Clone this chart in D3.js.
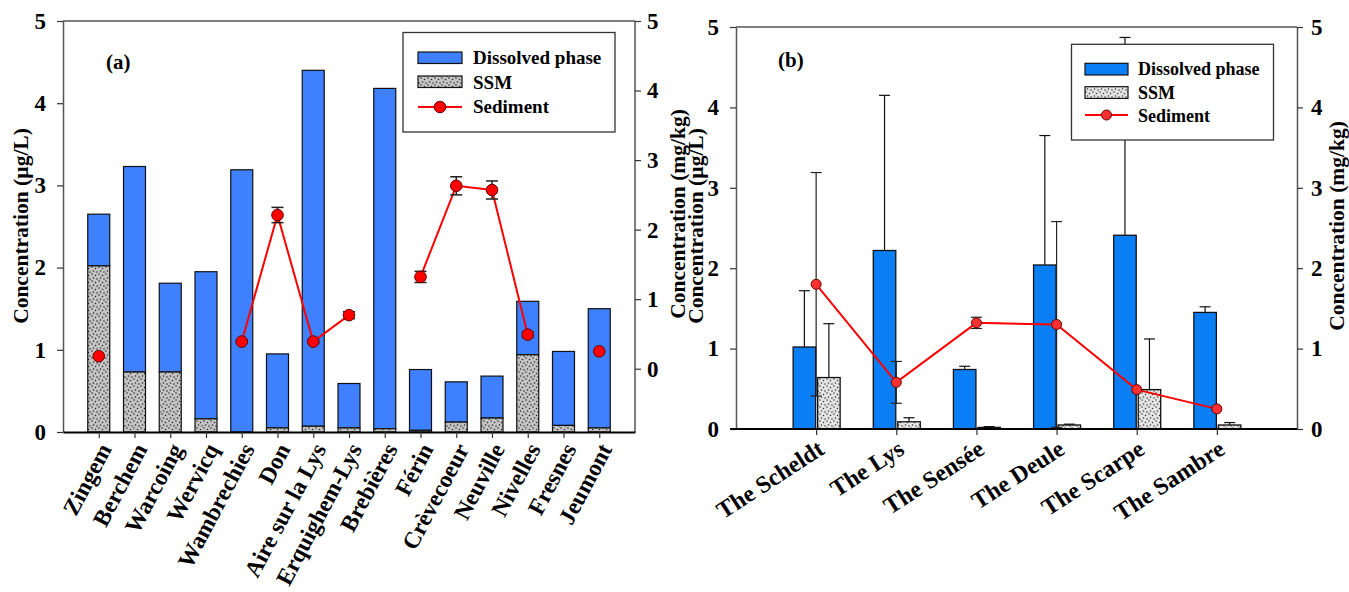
<!DOCTYPE html>
<html><head><meta charset="utf-8">
<script src="https://cdn.jsdelivr.net/npm/d3@7"></script>
<style>
body{margin:0;background:#fff}
svg{display:block}
text{font-family:"Liberation Serif","Times New Roman",serif;font-weight:bold;fill:#000}
</style>
</head><body>
<svg id="c" width="1349" height="592"></svg>
<script>
// ---------- Panel (a) data ----------
const sitesA = ["Zingem","Berchem","Warcoing","Wervicq","Wambrechies","Don","Aire sur la Lys","Erquighem-Lys","Brebières","Férin","Crèvecoeur","Neuville","Nivelles","Fresnes","Jeumont"];
const ssmA = [2.02,0.73,0.73,0.16,0,0.05,0.07,0.05,0.04,0.02,0.12,0.17,0.94,0.08,0.05];
const dissolvedA = [0.63,2.50,1.08,1.79,3.19,0.90,4.33,0.54,4.14,0.74,0.49,0.51,0.65,0.90,1.45];
const sedimentA = [0.18,null,null,null,0.39,2.21,0.39,0.77,null,1.32,2.63,2.57,0.49,null,0.25];
const sedErrA = [0,null,null,null,0.02,0.11,0.02,0.05,null,0.08,0.13,0.13,0.04,null,0];
const ticksA = [0,1,2,3,4,5];
const ticksA2 = [0,1,2,3,4,5];

// ---------- Panel (b) data ----------
const rivers = ["The Scheldt","The Lys","The Sensée","The Deule","The Scarpe","The Sambre"];
const dissolvedB = [1.02,2.22,0.74,2.04,2.41,1.45];
const dissolvedErrB = [0.70,1.93,0.04,1.61,2.46,0.07];
const ssmB = [0.64,0.09,0.02,0.05,0.49,0.05];
const ssmErrB = [0.67,0.05,0.01,0.01,0.63,0.03];
const sedimentB = [1.80,0.58,1.32,1.30,0.49,0.25];
const sedErrB = [1.39,0.26,0.07,1.28,0,0];
const ticksB = [0,1,2,3,4,5];

const legendLabels = ["Dissolved phase","SSM","Sediment"];

const svg = d3.select("#c");
const defs = svg.append("defs");
function dotPattern(id,bg,dot){
  const p = defs.append("pattern").attr("id",id).attr("patternUnits","userSpaceOnUse").attr("width",7).attr("height",7);
  p.append("rect").attr("width",7).attr("height",7).attr("fill",bg);
  [[1,1],[4.5,2.5],[2.5,5],[6,6]].forEach(([x,y])=>p.append("circle").attr("cx",x).attr("cy",y).attr("r",0.75).attr("fill",dot));
}
dotPattern("dotsA","#c4c4c4","#222");
dotPattern("dotsB","#e4e4e4","#333");

function styleAxis(g, size){
  g.selectAll("text").style("font-size",size+"px").style("font-family","'Liberation Serif',serif").style("font-weight","bold").attr("fill","#000");
  g.selectAll(".tick line").attr("stroke","#333").attr("stroke-width",1.2);
}

// ================= Panel (a) =================
(function(){
  const A = {x0:63,x1:635,top:21,bot:432};
  const xA = d3.scaleLinear().domain([0,sitesA.length+1]).range([A.x0,A.x1]);
  const yA = d3.scaleLinear().domain([0,5]).range([A.bot,A.top]);
  const yA2 = d3.scaleLinear().domain([-0.91,5]).range([A.bot,A.top]);
  const bw = 22;
  const g = svg.append("g");

  sitesA.forEach((s,i)=>{
    const cx = xA(i+1);
    const base = ssmA[i];
    g.append("rect").attr("x",cx-bw/2).attr("width",bw)
      .attr("y",yA(base+dissolvedA[i])).attr("height",yA(base)-yA(base+dissolvedA[i]))
      .attr("fill","#3f80ff").attr("stroke","#111").attr("stroke-width",1.2);
    if(base>0){
      g.append("rect").attr("x",cx-bw/2).attr("width",bw)
        .attr("y",yA(base)).attr("height",yA(0)-yA(base))
        .attr("fill","url(#dotsA)").attr("stroke","#111").attr("stroke-width",1.2);
    }
  });

  g.append("line").attr("x1",A.x0).attr("x2",A.x1).attr("y1",A.top).attr("y2",A.top).attr("stroke","#555").attr("stroke-width",1.3);
  const la = g.append("g").attr("transform",`translate(${A.x0},0)`)
    .call(d3.axisLeft(yA).tickValues(ticksA).tickSize(6).tickSizeOuter(0).tickPadding(11).tickFormat(d3.format("d")));
  la.select(".domain").attr("stroke","#555").attr("stroke-width",1.5);
  styleAxis(la,23);
  const ra = g.append("g").attr("transform",`translate(${A.x1},0)`)
    .call(d3.axisRight(yA2).tickValues(ticksA2).tickSize(6).tickSizeOuter(0).tickPadding(6).tickFormat(d3.format("d")));
  ra.select(".domain").attr("stroke","#555").attr("stroke-width",1.5);
  ra.select(".domain").attr("d",`M0,${A.top}V${A.bot}`);
  styleAxis(ra,23);
  const ba = g.append("g").attr("transform",`translate(0,${A.bot})`)
    .call(d3.axisBottom(xA).tickValues(d3.range(1,sitesA.length+1)).tickSize(6).tickSizeOuter(0).tickFormat(d=>sitesA[d-1]));
  ba.select(".domain").attr("stroke","#000").attr("stroke-width",2);
  styleAxis(ba,23.5);
  ba.selectAll("text").attr("x",0).attr("y",0).attr("dy",0).attr("text-anchor","end")
    .attr("transform","translate(13,17) rotate(-62)");

  const line = d3.line().defined(d=>d.v!==null).x(d=>xA(d.i+1)).y(d=>yA2(d.v));
  const sd = sedimentA.map((v,i)=>({v,i,e:sedErrA[i]}));
  g.append("path").datum(sd).attr("d",line).attr("fill","none").attr("stroke","#ff0000").attr("stroke-width",2);
  sd.filter(d=>d.v!==null && d.e>0).forEach(d=>{
    const cx = xA(d.i+1), t = yA2(d.v+d.e), b = yA2(d.v-d.e);
    g.append("line").attr("x1",cx).attr("x2",cx).attr("y1",t).attr("y2",b).attr("stroke","#222").attr("stroke-width",1.5);
    [t,b].forEach(yy=>g.append("line").attr("x1",cx-6).attr("x2",cx+6).attr("y1",yy).attr("y2",yy).attr("stroke","#222").attr("stroke-width",1.5));
  });
  g.selectAll("circle.sa").data(sd.filter(d=>d.v!==null)).enter().append("circle")
    .attr("cx",d=>xA(d.i+1)).attr("cy",d=>yA2(d.v)).attr("r",5.8)
    .attr("fill","#ff0000").attr("stroke","#600").attr("stroke-width",1);

  g.append("text").attr("transform","translate(28,226) rotate(-90)").attr("text-anchor","middle").style("font-size","21.5px").text("Concentration (µg/L)");
  g.append("text").attr("transform","translate(685,214) rotate(-90)").attr("text-anchor","middle").style("font-size","21.5px").text("Concentration (mg/kg)");
  g.append("text").attr("x",106).attr("y",69).style("font-size","21px").text("(a)");

  const L = g.append("g");
  L.append("rect").attr("x",403).attr("y",32.5).attr("width",212).attr("height",99.5).attr("fill","#fff").attr("stroke","#333").attr("stroke-width",1.3);
  L.append("rect").attr("x",418).attr("y",52).attr("width",44).attr("height",11.5).attr("fill","#3f80ff").attr("stroke","#111").attr("stroke-width",1.2);
  L.append("rect").attr("x",418).attr("y",76).attr("width",44).attr("height",11.5).attr("fill","url(#dotsA)").attr("stroke","#111").attr("stroke-width",1.2);
  L.append("line").attr("x1",418).attr("x2",462).attr("y1",107).attr("y2",107).attr("stroke","#ff0000").attr("stroke-width",2);
  L.append("circle").attr("cx",440).attr("cy",107).attr("r",5.8).attr("fill","#ff0000").attr("stroke","#600");
  [64,88.5,113].forEach((yy,k)=>L.append("text").attr("x",473).attr("y",yy).style("font-size","19px").text(legendLabels[k]));
})();

// ================= Panel (b) =================
(function(){
  const B = {x0:736,x1:1297,top:27,bot:429};
  const xB = d3.scaleLinear().domain([0,rivers.length+1]).range([B.x0,B.x1]);
  const yB = d3.scaleLinear().domain([0,5]).range([B.bot,B.top]);
  const yB2 = d3.scaleLinear().domain([0,5]).range([B.bot,B.top]);
  const bw = 22.5;
  const g = svg.append("g");

  function errUp(cx,v,e){
    if(!(e>0)) return;
    const t = yB(v+e);
    g.append("line").attr("x1",cx).attr("x2",cx).attr("y1",yB(v)).attr("y2",t).attr("stroke","#111").attr("stroke-width",1.2);
    g.append("line").attr("x1",cx-5.5).attr("x2",cx+5.5).attr("y1",t).attr("y2",t).attr("stroke","#111").attr("stroke-width",1.2);
  }
  rivers.forEach((r,i)=>{
    const cx = xB(i+1);
    g.append("rect").attr("x",cx-bw-0.5).attr("width",bw).attr("y",yB(dissolvedB[i])).attr("height",yB(0)-yB(dissolvedB[i]))
      .attr("fill","#0a7ff5").attr("stroke","#111").attr("stroke-width",1.3);
    errUp(cx-bw/2-0.5,dissolvedB[i],dissolvedErrB[i]);
    g.append("rect").attr("x",cx+1.5).attr("width",bw).attr("y",yB(ssmB[i])).attr("height",yB(0)-yB(ssmB[i]))
      .attr("fill","url(#dotsB)").attr("stroke","#111").attr("stroke-width",1.3);
    errUp(cx+1.5+bw/2,ssmB[i],ssmErrB[i]);
  });

  g.append("line").attr("x1",B.x0).attr("x2",B.x1).attr("y1",B.top).attr("y2",B.top).attr("stroke","#555").attr("stroke-width",1.3);
  const la = g.append("g").attr("transform",`translate(${B.x0},0)`)
    .call(d3.axisLeft(yB).tickValues(ticksB).tickSize(6).tickSizeOuter(0).tickPadding(11).tickFormat(d3.format("d")));
  la.select(".domain").attr("stroke","#555").attr("stroke-width",1.5);
  styleAxis(la,23);
  const ra = g.append("g").attr("transform",`translate(${B.x1},0)`)
    .call(d3.axisRight(yB2).tickValues(ticksB).tickSize(6).tickSizeOuter(0).tickPadding(8).tickFormat(d3.format("d")));
  ra.select(".domain").attr("stroke","#555").attr("stroke-width",1.5);
  styleAxis(ra,23);
  const ba = g.append("g").attr("transform",`translate(0,${B.bot})`)
    .call(d3.axisBottom(xB).tickValues(d3.range(1,rivers.length+1)).tickSize(6).tickSizeOuter(0).tickFormat(d=>rivers[d-1]));
  ba.select(".domain").attr("stroke","#000").attr("stroke-width",2).attr("d",`M${B.x0-6},0H${B.x1}`);
  styleAxis(ba,24);
  ba.selectAll("text").attr("x",0).attr("y",0).attr("dy",0).attr("text-anchor","end")
    .attr("transform","translate(9,24) rotate(-33)");

  const sd = sedimentB.map((v,i)=>({v,i,e:sedErrB[i]}));
  const line = d3.line().x(d=>xB(d.i+1)).y(d=>yB2(d.v));
  g.append("path").datum(sd).attr("d",line).attr("fill","none").attr("stroke","#ff0000").attr("stroke-width",2);
  sd.filter(d=>d.e>0).forEach(d=>{
    const cx = xB(d.i+1), t = yB2(d.v+d.e), b = yB2(d.v-d.e);
    g.append("line").attr("x1",cx).attr("x2",cx).attr("y1",t).attr("y2",b).attr("stroke","#222").attr("stroke-width",1.2);
    [t,b].forEach(yy=>g.append("line").attr("x1",cx-5.5).attr("x2",cx+5.5).attr("y1",yy).attr("y2",yy).attr("stroke","#222").attr("stroke-width",1.2));
  });
  g.selectAll("circle.sb").data(sd).enter().append("circle")
    .attr("cx",d=>xB(d.i+1)).attr("cy",d=>yB2(d.v)).attr("r",5)
    .attr("fill","#ff3030").attr("stroke","#600").attr("stroke-width",1);

  g.append("text").attr("transform","translate(703,226) rotate(-90)").attr("text-anchor","middle").style("font-size","21.5px").text("Concentration (µg/L)");
  g.append("text").attr("transform","translate(1344,226) rotate(-90)").attr("text-anchor","middle").style("font-size","21.5px").text("Concentration (mg/kg)");
  g.append("text").attr("x",778).attr("y",67).style("font-size","21px").text("(b)");

  const L = g.append("g");
  L.append("rect").attr("x",1071.5).attr("y",44.3).attr("width",202).attr("height",95.7).attr("fill","#fff").attr("stroke","#333").attr("stroke-width",1.3);
  L.append("rect").attr("x",1085).attr("y",63.3).attr("width",43).attr("height",11.7).attr("fill","#0a7ff5").attr("stroke","#111").attr("stroke-width",1.2);
  L.append("rect").attr("x",1085).attr("y",86.7).attr("width",43).attr("height",11.7).attr("fill","url(#dotsB)").attr("stroke","#111").attr("stroke-width",1.2);
  L.append("line").attr("x1",1085).attr("x2",1128).attr("y1",115).attr("y2",115).attr("stroke","#ff0000").attr("stroke-width",2);
  L.append("circle").attr("cx",1106.5).attr("cy",115).attr("r",5).attr("fill","#ff3030").attr("stroke","#600");
  [75,98.5,122].forEach((yy,k)=>L.append("text").attr("x",1138).attr("y",yy).style("font-size","18px").text(legendLabels[k]));
})();
</script>
</body></html>
